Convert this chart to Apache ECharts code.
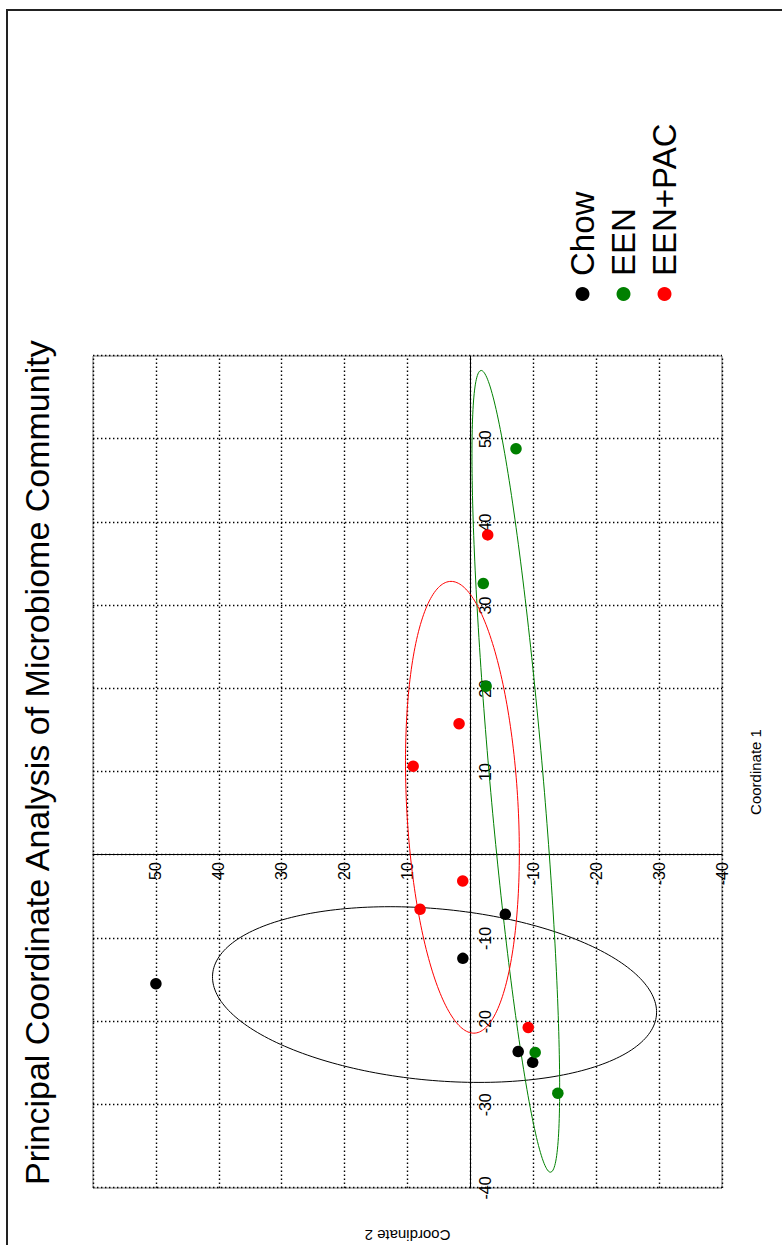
<!DOCTYPE html>
<html>
<head>
<meta charset="utf-8">
<script src="https://cdn.jsdelivr.net/npm/echarts@6/dist/echarts.min.js"></script>
<style>
  html, body { margin: 0; padding: 0; background: #fff; overflow: hidden; }
  #stage { position: absolute; left: 0; top: 0; width: 782px; height: 1245px; overflow: hidden; background: #fff; }
  /* the figure is laid out landscape and turned a quarter turn counter-clockwise */
  #chart { position: absolute; left: 0; top: 0; width: 1245px; height: 782px;
           transform-origin: 0 0; transform: translateY(1245px) rotate(-90deg); }
</style>
</head>
<body>
<div id="stage"><div id="chart"></div></div>
<script>
// ---- data: [Coordinate 1, Coordinate 2] per sample ----
const groups = ['Chow', 'EEN', 'EEN+PAC'];

const chowPoints = [[-15.45, 50.0], [-12.4, 1.2], [-7.1, -5.55], [-23.6, -7.6], [-24.9, -9.9]];
const eenPoints = [[48.86, -7.25], [32.65, -2.05], [20.3, -2.5], [-23.7, -10.3], [-28.6, -13.9]];
const eenPacPoints = [[38.5, -2.75], [15.8, 1.8], [10.7, 9.1], [-3.1, 1.22], [-6.5, 8.0], [-20.7, -9.2]];

// group ellipses: centre, half-span along each coordinate, correlation
const ellipseCenters = [[-16.75, 5.7], [10.08, -7.22], [5.76, 1.27]];
const ellipseHalfSpans = [[10.56, 35.3], [48.18, 6.97], [27.15, 9.05]];
const ellipseCorrelations = [0.2, 0.79, 0.2];

// axis range and the ticks that carry a label
const axisRange = [-40, 60];
const coord1TickLabels = [-40, -30, -20, -10, 10, 20, 30, 40, 50];
const coord2TickLabels = [-40, -30, -20, -10, 10, 20, 30, 40, 50];

// ---- styling / layout ----
const groupColors = ['#000000', '#008000', '#ff0000'];
const FONT = '"Liberation Sans", Arial, Helvetica, sans-serif';
const W = 1245, H = 782;
const GRID = { left: 57, right: 356, top: 93, bottom: 60 };

function ellipseOutline(center, half, rho) {
  const phi = Math.acos(rho);
  const pts = [];
  const n = 240;
  for (let i = 0; i <= n; i++) {
    const t = (2 * Math.PI * i) / n;
    pts.push([center[0] + half[0] * Math.cos(t), center[1] + half[1] * Math.cos(t - phi)]);
  }
  return pts;
}

const pointSets = [chowPoints, eenPoints, eenPacPoints];

const series = [];
groups.forEach((g, i) => {
  series.push({
    name: g + ' ellipse',
    type: 'line',
    data: ellipseOutline(ellipseCenters[i], ellipseHalfSpans[i], ellipseCorrelations[i]),
    showSymbol: false,
    smooth: false,
    silent: true,
    lineStyle: { color: groupColors[i], width: 1 },
    z: 3
  });
});
groups.forEach((g, i) => {
  series.push({
    name: g,
    type: 'scatter',
    data: pointSets[i],
    symbol: 'circle',
    symbolSize: 11.5,
    itemStyle: { color: groupColors[i], opacity: 1 },
    z: 5
  });
});

// axes cross at the origin: shift each axis from the grid edge to the zero line
const plotW = W - GRID.left - GRID.right;
const plotH = H - GRID.top - GRID.bottom;
const zeroFrac = (0 - axisRange[0]) / (axisRange[1] - axisRange[0]);
const xAxisOffset = -plotH * zeroFrac;
const yAxisOffset = -plotW * zeroFrac;

const gridLine = { show: true, lineStyle: { color: '#000', width: 1.4, type: [1.4, 2.6] } };

function axis(labels, offset) {
  return {
    type: 'value',
    min: axisRange[0],
    max: axisRange[1],
    interval: 10,
    offset: offset,
    axisLine: { show: true, onZero: false, lineStyle: { color: '#000', width: 1 } },
    axisTick: { show: false },
    axisLabel: {
      color: '#000',
      fontSize: 16,
      fontFamily: FONT,
      margin: 7,
      showMinLabel: true,
      showMaxLabel: true,
      formatter: v => (labels.indexOf(v) >= 0 ? String(v) : '')
    },
    splitLine: gridLine
  };
}

const chart = echarts.init(document.getElementById('chart'), null, { renderer: 'svg' });
chart.setOption({
  backgroundColor: '#fff',
  animation: false,
  title: {
    text: 'Principal Coordinate Analysis of Microbiome Community',
    left: 55,
    top: 15,
    textStyle: { fontSize: 34, fontWeight: 'normal', color: '#000', fontFamily: FONT }
  },
  legend: {
    data: groups,
    orient: 'vertical',
    left: 939,
    top: 561,
    itemWidth: 26,
    itemHeight: 14,
    itemGap: 8,
    icon: 'circle',
    textStyle: { fontSize: 33, color: '#000', fontFamily: FONT }
  },
  grid: Object.assign({
    show: true, borderColor: '#777', borderWidth: 1, backgroundColor: 'transparent'
  }, GRID),
  xAxis: axis(coord1TickLabels, xAxisOffset),
  yAxis: axis(coord2TickLabels, yAxisOffset),
  series: series,
  graphic: [
    {
      type: 'rect',
      shape: { x: -10, y: 7, width: 1245, height: 820 },
      style: { fill: 'none', stroke: '#222', lineWidth: 2 },
      silent: true
    },
    {
      type: 'text',
      x: GRID.left + plotW / 2, y: 755,
      style: { text: 'Coordinate 1', fontSize: 15, fill: '#000', fontFamily: FONT, align: 'center', verticalAlign: 'middle' },
      silent: true
    },
    {
      type: 'text',
      x: 10, y: GRID.top + plotH / 2,
      rotation: Math.PI / 2,
      style: { text: 'Coordinate 2', fontSize: 15, fill: '#000', fontFamily: FONT, align: 'center', verticalAlign: 'middle' },
      silent: true
    }
  ]
});
</script>
</body>
</html>
